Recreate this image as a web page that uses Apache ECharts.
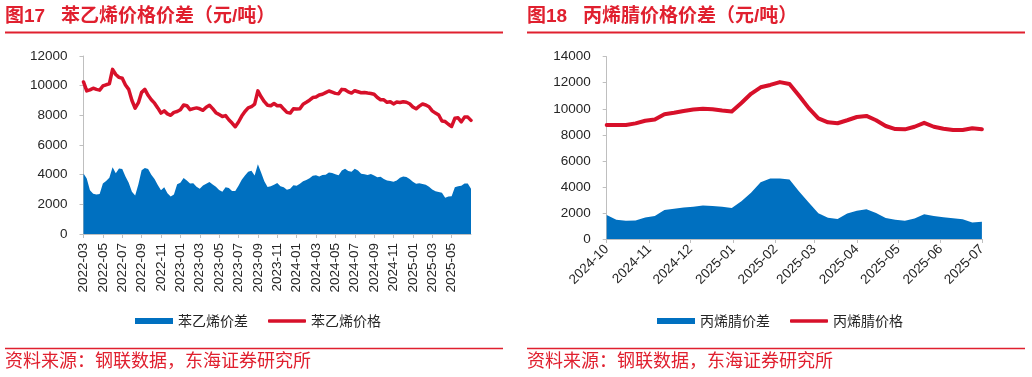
<!DOCTYPE html>
<html>
<head>
<meta charset="utf-8">
<script src="https://cdn.jsdelivr.net/npm/echarts@6/dist/echarts.min.js"></script>
<style>
html,body{margin:0;padding:0;background:#fff;}
#main{width:1032px;height:377px;}
</style>
</head>
<body>
<div id="main"></div>
<script>
// 苯乙烯：每月取3个点（01/11/21日），2022-03 ~ 2025-07-01
var styFirstMonth = [2022, 3];
var styMonthCount = 40;
var styDays = ['01', '11', '21'];
var styPrice = [
  10250, 9650, 9720, 9830, 9750, 9700, 9980, 10060, 10120, 11100,
  10750, 10560, 10500, 10050, 9750, 9000, 8480, 8850, 9550, 9750,
  9350, 9050, 8820, 8500, 8150, 8300, 8100, 8000, 8200, 8260,
  8380, 8700, 8650, 8380, 8450, 8500, 8440, 8340, 8550, 8680,
  8450, 8180, 8050, 7920, 7980, 7700, 7480, 7230, 7550, 7950,
  8260, 8500, 8580, 8760, 9650, 9250, 8920, 8680, 8650, 8800,
  8650, 8660, 8420, 8200, 8150, 8450, 8420, 8450, 8750, 8880,
  9020, 9200, 9230, 9370, 9420, 9530, 9640, 9560, 9480, 9450,
  9750, 9720, 9580, 9500, 9660, 9590, 9520, 9540, 9500, 9470,
  9420, 9200, 9050, 9050, 8880, 8920, 8770, 8900, 8870, 8920,
  8880, 8780, 8560, 8440, 8620, 8760, 8700, 8580, 8300, 8150,
  8020, 7620, 7580, 7400, 7250, 7800, 7830, 7560, 7880, 7880, 7660
];
var stySpread = [
  4085, 3750, 2950, 2720, 2670, 2700, 3400, 3580, 3800, 4500,
  4100, 4420, 4380, 3880, 3450, 2850, 2600, 3350, 4300, 4450,
  4380, 4000, 3700, 3300, 2950, 3150, 2750, 2520, 2660, 3350,
  3450, 3780, 3600, 3400, 3420, 3180, 3050, 3270, 3380, 3500,
  3340, 3180, 2960, 2850, 3150, 3100, 2900, 2900, 3250, 3650,
  3950, 4200, 4260, 3950, 4700, 4150, 3550, 3170, 3220, 3320,
  3430, 3220, 3150, 2980, 3050, 3280, 3250, 3380, 3560, 3640,
  3760, 3920, 3960, 3880, 3980, 4000, 4150, 4120, 4020, 3960,
  4280, 4400, 4250, 4200, 4400, 4280, 4060, 4020, 3970, 4050,
  3950, 3820, 3860, 3700, 3610, 3580, 3530, 3600, 3800, 3870,
  3850, 3700, 3520, 3380, 3420, 3370, 3320, 3180, 3000, 2880,
  2830, 2780, 2450, 2520, 2550, 3150, 3220, 3250, 3400, 3400, 3050
];

// 丙烯腈：周度，2024-10-01 起
var anFirstDay = [2024, 10, 1];
var anPrice = [
  8750, 8750, 8750, 8880, 9080, 9180, 9580, 9690, 9830, 9940,
  10000, 9970, 9870, 9800, 10450, 11150, 11650, 11830, 12050, 11900,
  11000, 10050, 9270, 8960, 8890, 9120, 9370, 9450, 9120, 8680,
  8440, 8420, 8620, 8920, 8620, 8470, 8370, 8370, 8500, 8420
];
var anSpread = [
  1840, 1480, 1400, 1430, 1660, 1760, 2220, 2320, 2420, 2480,
  2580, 2530, 2470, 2380, 2900, 3550, 4350, 4640, 4650, 4560,
  3650, 2800, 1980, 1640, 1540, 1950, 2170, 2280, 1990, 1620,
  1470, 1410, 1580, 1900, 1770, 1670, 1590, 1510, 1260, 1330
];

var styDates = [];
for (var m = 0; m <= styMonthCount; m++) {
  var mm = styFirstMonth[1] - 1 + m;
  var ym = (styFirstMonth[0] + Math.floor(mm / 12)) + '-' + ('0' + (mm % 12 + 1)).slice(-2);
  for (var k = 0; k < styDays.length; k++) {
    if (m === styMonthCount && k > 0) break;
    styDates.push(ym + '-' + styDays[k]);
  }
}

var anDates = [];
for (var i = 0; i < anPrice.length; i++) {
  anDates.push(new Date(anFirstDay[0], anFirstDay[1] - 1, anFirstDay[2] + 7 * i).getTime());
}
var anMin = anDates[0], anMax = anDates[anDates.length - 1];

var red = '#D7102A', blue = '#0070C0', titleRed = '#E0202F';
var axisGrey = '#BFBFBF', labelColor = '#262626';
var numFont = '"Liberation Sans", Arial, sans-serif';
var cnFont = '"Noto Sans CJK SC", sans-serif';
var titleFont = '"Liberation Sans", "Noto Sans CJK SC", sans-serif';

// 每两个月一个刻度，最后一个点(2025-07)不标
function every2m(idx) { return idx % 6 === 0 && idx < styDates.length - 1; }

function yAxisOf(gi, max) {
  return {
    type: 'value', gridIndex: gi, min: 0, max: max, interval: 2000,
    splitLine: {show: false},
    axisLine: {show: true, lineStyle: {color: axisGrey, width: 1}},
    axisTick: {show: true, length: 4, lineStyle: {color: axisGrey}},
    axisLabel: {
      color: labelColor, fontSize: 13.5, fontFamily: numFont, margin: 16,
      formatter: function (v) { return String(v); }
    }
  };
}

function titleOf(text, x, y, size, weight) {
  return {
    text: text, left: x, top: y, padding: 0,
    textStyle: {color: titleRed, fontSize: size, fontWeight: weight, fontFamily: titleFont}
  };
}

function legendOf(x, name, icon, h) {
  return {
    left: x, top: 314, padding: 0, itemWidth: 38, itemHeight: h, itemGap: 20,
    selectedMode: false,
    data: [{name: name, icon: icon}],
    textStyle: {color: labelColor, fontSize: 14, fontFamily: cnFont}
  };
}

var chart = echarts.init(document.getElementById('main'), null, {renderer: 'canvas'});
chart.setOption({
  animation: false,
  backgroundColor: '#fff',
  title: [
    titleOf('图17   苯乙烯价格价差（元/吨）', 5, 7, 19, 'bold'),
    titleOf('图18   丙烯腈价格价差（元/吨）', 527, 7, 19, 'bold'),
    titleOf('资料来源：钢联数据，东海证券研究所', 5, 353, 18, 'normal'),
    titleOf('资料来源：钢联数据，东海证券研究所', 527, 353, 18, 'normal')
  ],
  graphic: [
    {type: 'line', shape: {x1: 5, y1: 32.5, x2: 503, y2: 32.5}, style: {stroke: titleRed, lineWidth: 2}},
    {type: 'line', shape: {x1: 527, y1: 32.5, x2: 1025, y2: 32.5}, style: {stroke: titleRed, lineWidth: 2}},
    {type: 'line', shape: {x1: 5, y1: 348.5, x2: 503, y2: 348.5}, style: {stroke: titleRed, lineWidth: 1.5}},
    {type: 'line', shape: {x1: 527, y1: 348.5, x2: 1025, y2: 348.5}, style: {stroke: titleRed, lineWidth: 1.5}}
  ],
  legend: [
    legendOf(135, '苯乙烯价差', 'rect', 6),
    legendOf(268, '苯乙烯价格', 'roundRect', 3.5),
    legendOf(657, '丙烯腈价差', 'rect', 6),
    legendOf(790, '丙烯腈价格', 'roundRect', 3.5)
  ],
  grid: [
    {left: 83.5, top: 56, width: 387.5, height: 178},
    {left: 606.7, top: 56.7, width: 375.2, height: 182.3}
  ],
  xAxis: [
    {
      type: 'category', gridIndex: 0, data: styDates, boundaryGap: false,
      axisLine: {show: true, lineStyle: {color: axisGrey}},
      axisTick: {show: true, interval: every2m, length: 4, lineStyle: {color: axisGrey}},
      axisLabel: {
        interval: every2m, rotate: 90, margin: 9, color: labelColor, fontSize: 13.5, fontFamily: numFont,
        formatter: function (v) { return v.slice(0, 7); }
      },
      splitLine: {show: false}
    },
    {
      type: 'time', gridIndex: 1, min: anMin, max: anMax, splitNumber: 9,
      maxInterval: 31 * 24 * 3600 * 1000,
      axisLine: {show: true, lineStyle: {color: axisGrey}},
      axisTick: {show: true, length: 4, lineStyle: {color: axisGrey}},
      axisLabel: {
        rotate: 45, margin: 8, color: labelColor, fontSize: 13.5, fontFamily: numFont,
        showMinLabel: true, showMaxLabel: true,
        formatter: function (v) { return echarts.time.format(v, '{yyyy}-{MM}', false); }
      },
      splitLine: {show: false}
    }
  ],
  yAxis: [yAxisOf(0, 12000), yAxisOf(1, 14000)],
  series: [
    {
      name: '苯乙烯价差', type: 'line', xAxisIndex: 0, yAxisIndex: 0, data: stySpread,
      symbol: 'none', itemStyle: {color: blue}, lineStyle: {width: 0, color: blue},
      areaStyle: {color: blue, opacity: 1}, z: 2
    },
    {
      name: '苯乙烯价格', type: 'line', xAxisIndex: 0, yAxisIndex: 0, data: styPrice,
      symbol: 'none', itemStyle: {color: red}, lineStyle: {width: 3.5, color: red, join: 'round', cap: 'round'}, z: 3
    },
    {
      name: '丙烯腈价差', type: 'line', xAxisIndex: 1, yAxisIndex: 1,
      data: anDates.map(function (d, i) { return [d, anSpread[i]]; }),
      symbol: 'none', itemStyle: {color: blue}, lineStyle: {width: 0, color: blue},
      areaStyle: {color: blue, opacity: 1}, z: 2
    },
    {
      name: '丙烯腈价格', type: 'line', xAxisIndex: 1, yAxisIndex: 1,
      data: anDates.map(function (d, i) { return [d, anPrice[i]]; }),
      symbol: 'none', itemStyle: {color: red}, lineStyle: {width: 4, color: red, join: 'round', cap: 'round'}, z: 3
    }
  ]
});
</script>
</body>
</html>
